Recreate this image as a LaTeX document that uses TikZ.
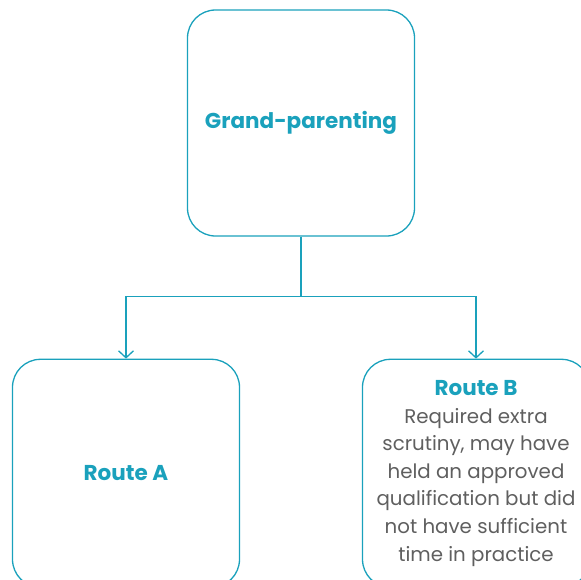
\documentclass[tikz,border=0pt]{standalone}
\usepackage{fontspec}
\setmainfont{Poppins}
\usepackage{tikz}
\usetikzlibrary{arrows.meta,positioning}
\definecolor{teal}{HTML}{1AA1BC}
\definecolor{textgray}{HTML}{5F5F5F}

\begin{document}
\begin{tikzpicture}[x=1pt, y=1pt, >={Straight Barb[length=7pt,width=15pt]}]
			\tikzstyle{routebox} = [draw=teal, line width=1.3pt, rounded corners=28pt, minimum width=227pt, minimum height=228pt, inner sep=0pt, align=center, text=textgray, font=\fontsize{19.8}{27.6}\selectfont]
			\tikzstyle{link} = [draw=teal, line width=1.3pt]
			\useasboundingbox (0,0) rectangle (581,-579);

			\node[routebox, minimum height=226pt] (gp) at (301,-123) {\textcolor{teal}{\bfseries\fontsize{21.5}{24}\selectfont Grand-parenting}};
			\node[routebox, anchor=north, below=122pt of gp, xshift=-175pt] (routeA) {\textcolor{teal}{\bfseries\fontsize{21.5}{24}\selectfont Route A}};
			\node[routebox, anchor=north, below=122pt of gp, xshift=175pt] (routeB) {\textcolor{teal}{\bfseries\fontsize{21.5}{24}\selectfont Route B}\\
				Required extra\\
				scrutiny, may have\\
				held an approved\\
				qualification but did\\
				not have sufficient\\
				time in practice};

			% split point under the top box
			\coordinate[below=60pt of gp.south] (split);
			\draw[link] (gp.south) -- (split);
			\draw[link, ->] (split) -| (routeA.north);
			\draw[link, ->] (split) -| (routeB.north);
\end{tikzpicture}
\end{document}
